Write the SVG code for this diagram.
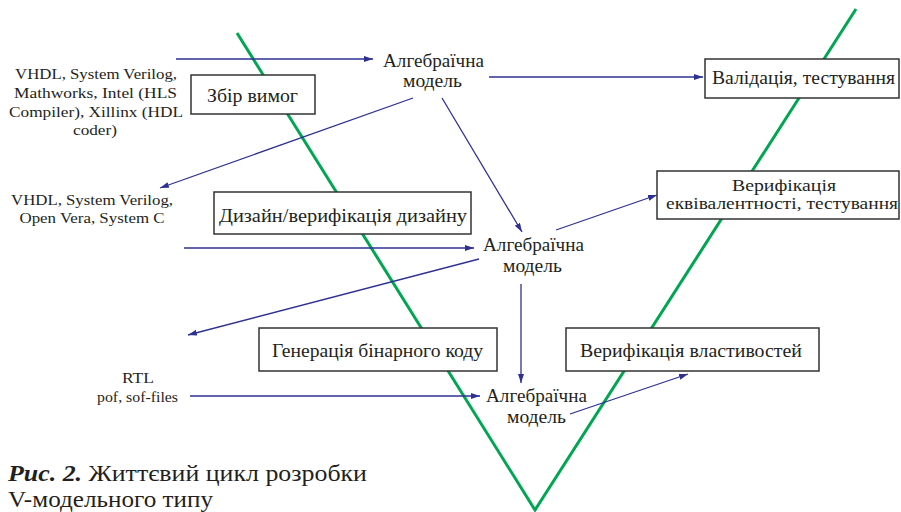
<svg xmlns="http://www.w3.org/2000/svg" width="901" height="512" viewBox="0 0 901 512" font-family="'Liberation Serif', 'Times New Roman', 'DejaVu Serif', serif">
<style>
text{font-family:"Liberation Serif","Times New Roman","DejaVu Serif","Noto Serif",serif;fill:#231f20;}
.t{font-size:18px;text-anchor:middle;}
.t2{font-size:17px;text-anchor:middle;}
.s{font-size:15.5px;text-anchor:middle;}
.box{fill:#fff;stroke:#333;stroke-width:1.5;}
.c{stroke:#2e3192;stroke-width:1.3;fill:none;marker-end:url(#ah);}
.v{stroke:#00a651;stroke-width:3;fill:none;}
.cap{font-size:23px;}
</style>
<defs>
<marker id="ah" markerUnits="userSpaceOnUse" markerWidth="10" markerHeight="7" refX="9" refY="3" orient="auto">
<path d="M0,0 L9,3 L0,6 z" fill="#2e3192"/>
</marker>
</defs>
<rect width="901" height="512" fill="#fff"/>
<polyline class="v" points="237,33 535,510 856,9"/>
<g id="connectors">
<line class="c" x1="176" y1="59" x2="373" y2="59"/>
<line class="c" x1="489" y1="77" x2="703" y2="77"/>
<line class="c" x1="413" y1="98" x2="160" y2="188"/>
<line class="c" x1="442" y1="98" x2="522" y2="232"/>
<line class="c" x1="556" y1="230" x2="657" y2="195"/>
<line class="c" x1="184" y1="248" x2="474" y2="248"/>
<line class="c" x1="479" y1="259" x2="188" y2="335"/>
<line class="c" x1="521" y1="284" x2="521" y2="383"/>
<line class="c" x1="190" y1="396" x2="480" y2="396"/>
<line class="c" x1="570" y1="414" x2="688" y2="374"/>
</g>
<g id="box-zbir">
<rect class="box" x="191" y="75" width="124" height="39"/>
<text class="t" x="252.5" y="102" textLength="91" lengthAdjust="spacingAndGlyphs">Збір вимог</text>
</g>
<g id="box-validation">
<rect class="box" x="705" y="59" width="194" height="39"/>
<text class="t" x="803.5" y="84" textLength="183" lengthAdjust="spacingAndGlyphs">Валідація, тестування</text>
</g>
<g id="box-equiv">
<rect class="box" x="657" y="171" width="242" height="48"/>
<text class="t2" x="784" y="191" textLength="104" lengthAdjust="spacingAndGlyphs">Верифікація</text>
<text class="t2" x="782" y="209" textLength="232" lengthAdjust="spacingAndGlyphs">еквівалентності, тестування</text>
</g>
<g id="box-design">
<rect class="box" x="214" y="192" width="257" height="42"/>
<text class="t" x="343" y="222" textLength="248" lengthAdjust="spacingAndGlyphs">Дизайн/верифікація дизайну</text>
</g>
<g id="box-gen">
<rect class="box" x="259" y="328" width="238" height="43"/>
<text class="t" x="377.5" y="357" textLength="211" lengthAdjust="spacingAndGlyphs">Генерація бінарного коду</text>
</g>
<g id="box-props">
<rect class="box" x="566" y="328" width="253" height="43"/>
<text class="t" x="691" y="357" textLength="222" lengthAdjust="spacingAndGlyphs">Верифікація властивостей</text>
</g>
<g id="model-1">
<text class="t" x="433.5" y="67" textLength="101" lengthAdjust="spacingAndGlyphs">Алгебраїчна</text>
<text class="t" x="432.5" y="87" textLength="59" lengthAdjust="spacingAndGlyphs">модель</text>
</g>
<g id="model-2">
<text class="t" x="533.5" y="251" textLength="101" lengthAdjust="spacingAndGlyphs">Алгебраїчна</text>
<text class="t" x="532.5" y="272" textLength="59" lengthAdjust="spacingAndGlyphs">модель</text>
</g>
<g id="model-3">
<text class="t" x="536.5" y="402" textLength="101" lengthAdjust="spacingAndGlyphs">Алгебраїчна</text>
<text class="t" x="536.5" y="423" textLength="59" lengthAdjust="spacingAndGlyphs">модель</text>
</g>
<g id="tools-1">
<text class="s" x="96" y="79" textLength="162" lengthAdjust="spacingAndGlyphs">VHDL, System Verilog,</text>
<text class="s" x="95.5" y="98" textLength="163" lengthAdjust="spacingAndGlyphs">Mathworks, Intel (HLS</text>
<text class="s" x="96" y="117" textLength="174" lengthAdjust="spacingAndGlyphs">Compiler), Xillinx (HDL</text>
<text class="s" x="95" y="135" textLength="44" lengthAdjust="spacingAndGlyphs">coder)</text>
</g>
<g id="tools-2">
<text class="s" x="92" y="205" textLength="162" lengthAdjust="spacingAndGlyphs">VHDL, System Verilog,</text>
<text class="s" x="92" y="223" textLength="145" lengthAdjust="spacingAndGlyphs">Open Vera, System C</text>
</g>
<g id="tools-3">
<text class="s" x="138" y="383" textLength="32" lengthAdjust="spacingAndGlyphs">RTL</text>
<text class="s" x="137.5" y="402" textLength="81" lengthAdjust="spacingAndGlyphs">pof, sof-files</text>
</g>
<g id="caption">
<text class="cap" x="8" y="481" textLength="359" lengthAdjust="spacingAndGlyphs"><tspan font-weight="bold" font-style="italic">Рис. 2.</tspan> Життєвий цикл розробки</text>
<text class="cap" x="8" y="507" textLength="205" lengthAdjust="spacingAndGlyphs">V-модельного типу</text>
</g>
</svg>
